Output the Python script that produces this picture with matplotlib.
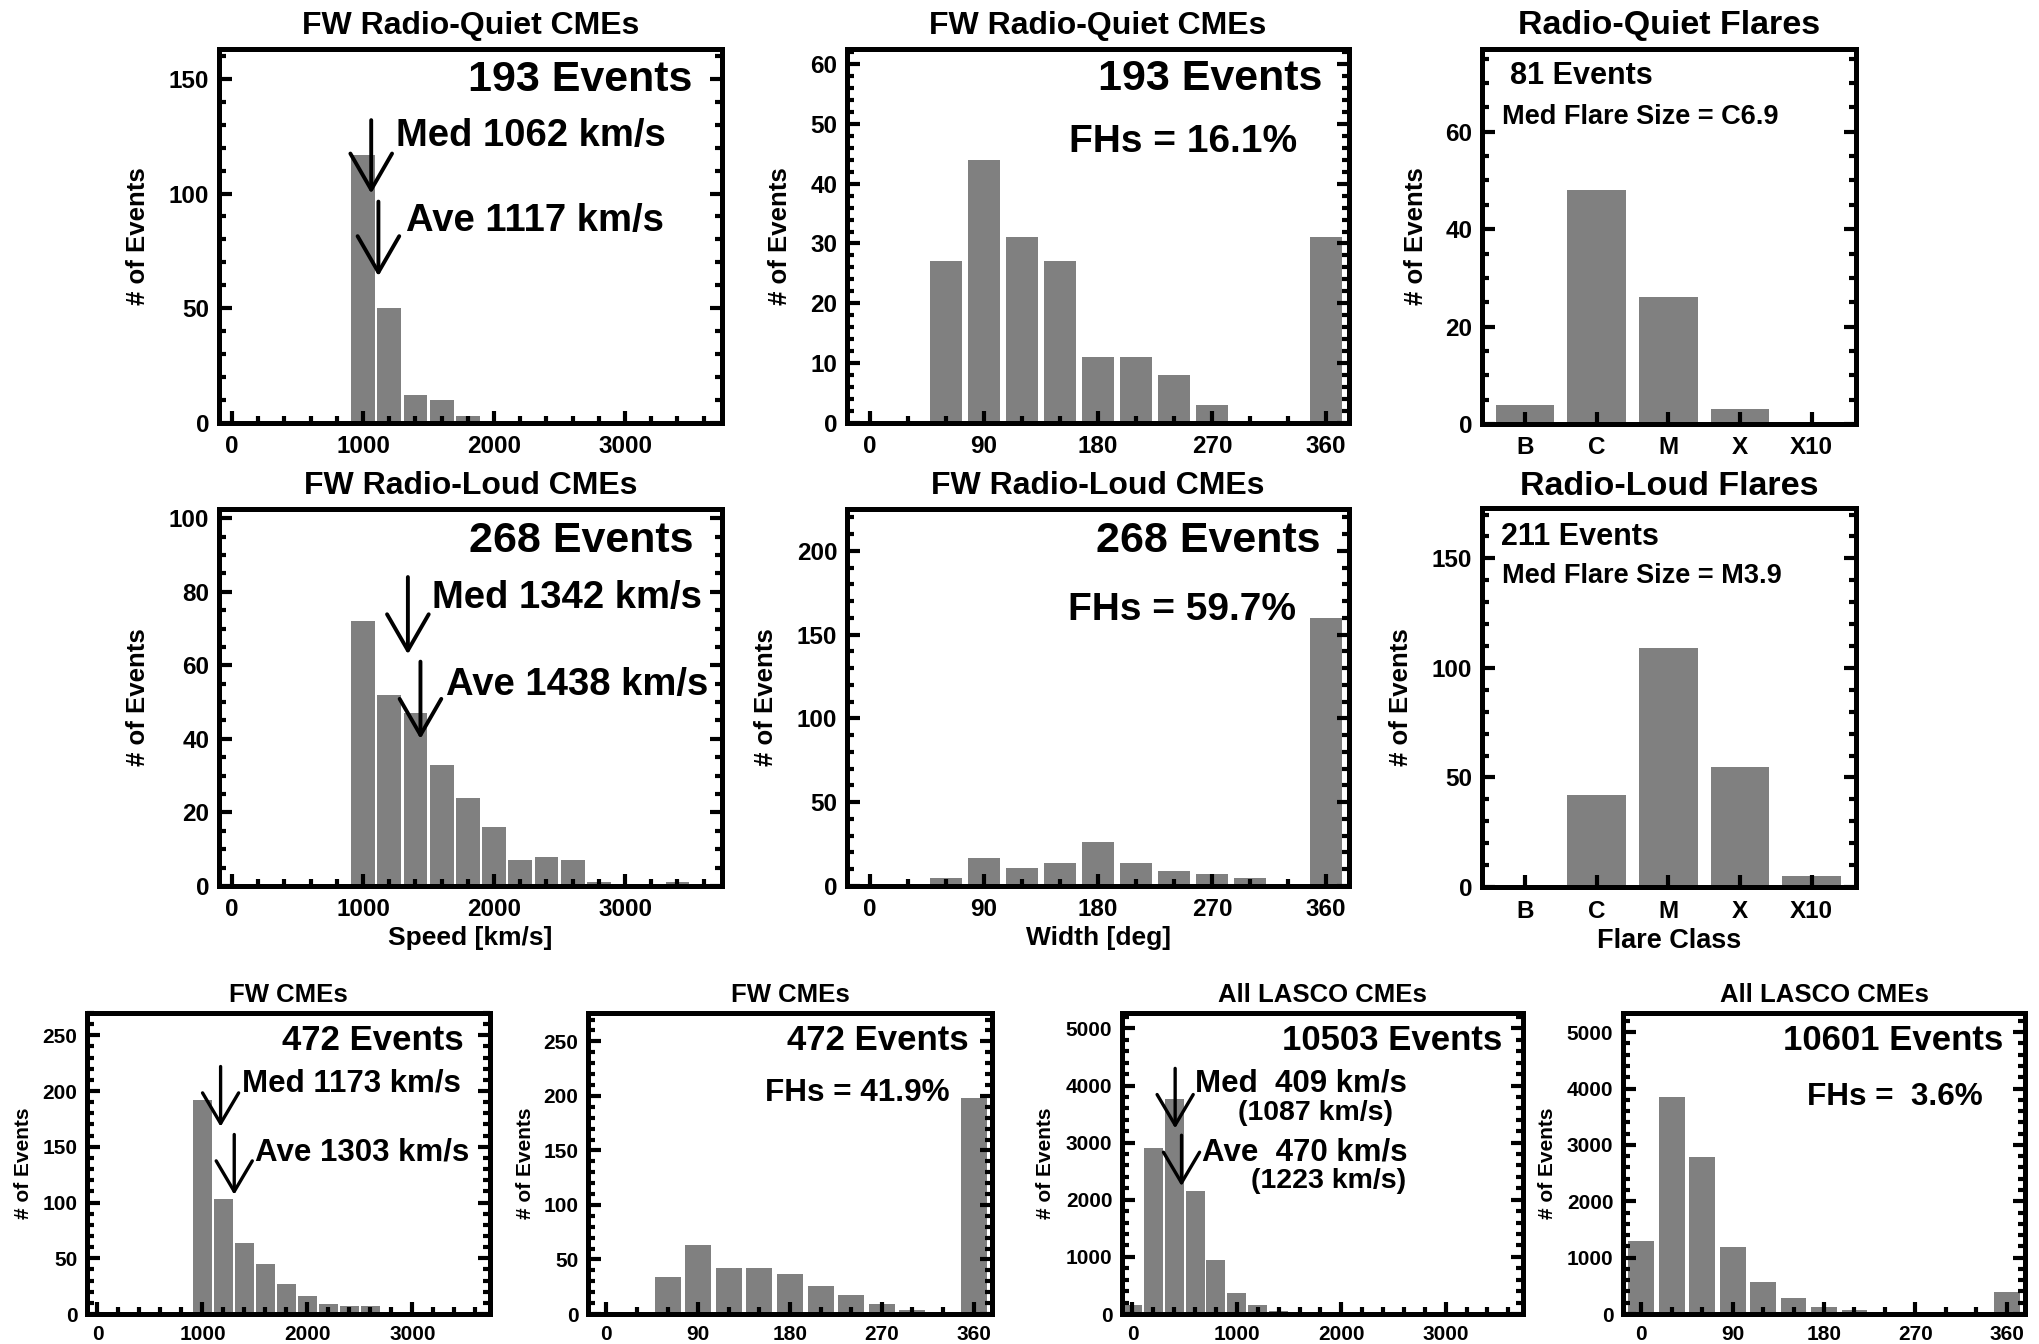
import matplotlib
matplotlib.use("Agg")
import matplotlib.pyplot as plt
from matplotlib.ticker import MultipleLocator, FixedLocator

plt.rcParams['font.family'] = ['Liberation Sans', 'DejaVu Sans']
plt.rcParams['font.weight'] = 'bold'
plt.rcParams['axes.labelweight'] = 'bold'

# ---------------- data ----------------
rq_speed_x = [1000, 1200, 1400, 1600, 1800, 2000]
rq_speed_n = [117, 50, 12, 10, 3, 1]
rl_speed_x = [1000, 1200, 1400, 1600, 1800, 2000, 2200, 2400, 2600, 2800, 3400]
rl_speed_n = [72, 52, 47, 33, 24, 16, 7, 8, 7, 1, 1]
fw_speed_x = [1000, 1200, 1400, 1600, 1800, 2000, 2200, 2400, 2600, 2800, 3400]
fw_speed_n = [192, 103, 64, 45, 27, 16, 9, 7, 7, 1, 1]
all_speed_x = [0, 200, 400, 600, 800, 1000, 1200, 1400, 1600, 1800]
all_speed_n = [150, 2910, 3760, 2150, 940, 370, 150, 50, 20, 3]

width_x = [60, 90, 120, 150, 180, 210, 240, 270, 300, 360]
rq_width_n = [27, 44, 31, 27, 11, 11, 8, 3, 0, 31]
rl_width_n = [5, 17, 11, 14, 26, 14, 9, 7, 5, 160]
fw_width_n = [34, 63, 42, 42, 37, 26, 17, 9, 4, 198]
all_width_x = [0, 30, 60, 90, 120, 150, 180, 210, 240, 270, 360]
all_width_n = [1300, 3850, 2780, 1180, 575, 285, 125, 65, 30, 10, 382]

flare_classes = ['B', 'C', 'M', 'X', 'X10']
rq_flare_n = [4, 48, 26, 3, 0]
rl_flare_n = [0, 42, 109, 55, 5]

# medians / averages (km/s)
rq_med, rq_ave = 1062, 1117
rl_med, rl_ave = 1342, 1438
fw_med, fw_ave = 1173, 1303
all_med, all_ave = 409, 470

GRAY = '#808080'
W, H = 2040, 1344
fig = plt.figure(figsize=(W / 100, H / 100), dpi=100)


def new_ax(L, R, T, B):
    return fig.add_axes([L / W, 1 - B / H, (R - L) / W, (B - T) / H])


def style(ax, xlim, ylim, xmaj, xmin, ymaj, ymin, fs, big=True):
    ax.set_xlim(*xlim)
    ax.set_ylim(*ylim)
    if xmaj is not None:
        ax.xaxis.set_major_locator(MultipleLocator(xmaj))
    if xmin is not None:
        ax.xaxis.set_minor_locator(MultipleLocator(xmin))
    ax.yaxis.set_major_locator(MultipleLocator(ymaj))
    ax.yaxis.set_minor_locator(MultipleLocator(ymin))
    ax.tick_params(which='both', direction='in', top=False, right=True,
                   left=True, bottom=True, width=3, labelsize=fs)
    ax.tick_params(which='major', length=9)
    ax.tick_params(which='minor', length=5)
    ax.tick_params(axis='x', pad=9 if big else 8)
    ax.tick_params(axis='y', pad=7)
    for s in ax.spines.values():
        s.set_linewidth(3.6)
    for lab in ax.get_xticklabels() + ax.get_yticklabels():
        lab.set_fontweight('bold')


def title(ax, txt, dy, fs):
    ax.text(0.5, 1 + dy, txt, transform=ax.transAxes, ha='center', va='center',
            fontsize=fs, fontweight='bold')


def ylab(ax, xpos, fs):
    ax.set_ylabel('# of Events', fontsize=fs, fontweight='bold')
    ax.yaxis.set_label_coords(xpos, 0.5)


def arrow(ax, x, y0, y1, hl, hw, lw):
    ax.annotate('', xy=(x, y1), xytext=(x, y0),
                arrowprops=dict(arrowstyle=f'->,head_length={hl},head_width={hw}',
                                lw=lw, color='black', shrinkA=0, shrinkB=0,
                                mutation_scale=10))


def txt(ax, x, y, s, fs, ha='left'):
    ax.text(x, y, s, transform=ax.transAxes, ha=ha, va='center', fontsize=fs,
            fontweight='bold')


SPD_XLIM = (-100, 3740)
WID_XLIM = (-18, 378)
FL_XLIM = (-0.6, 4.62)

# ---------------- Row 1 ----------------
ax = new_ax(219, 722, 49, 423)
ax.bar(rq_speed_x, rq_speed_n, width=182, color=GRAY, edgecolor='none')
style(ax, SPD_XLIM, (0, 163), 1000, 200, 50, 10, 17.5)
title(ax, 'FW Radio-Quiet CMEs', 0.062, 23)
ylab(ax, -0.137, 18.5)
txt(ax, 0.942, 0.917, '193 Events', 31, ha='right')
txt(ax, 0.352, 0.767, f'Med {rq_med} km/s', 27.5)
txt(ax, 0.371, 0.540, f'Ave {rq_ave} km/s', 27.5)
arrow(ax, rq_med, 132, 100, 2.6, 1.5, 2.8)
arrow(ax, rq_ave, 96.5, 64, 2.6, 1.5, 2.8)

ax = new_ax(847, 1349, 49, 423)
ax.bar(width_x, rq_width_n, width=25.5, color=GRAY, edgecolor='none')
style(ax, WID_XLIM, (0, 62.5), 90, 30, 10, 2, 17.5)
title(ax, 'FW Radio-Quiet CMEs', 0.062, 23)
ylab(ax, -0.110, 18.5)
txt(ax, 0.946, 0.92, '193 Events', 31, ha='right')
txt(ax, 0.896, 0.752, 'FHs = 16.1%', 28, ha='right')

ax = new_ax(1482, 1856, 49, 424)
ax.bar(range(len(flare_classes)), rq_flare_n, width=0.82, color=GRAY, edgecolor='none')
style(ax, FL_XLIM, (0, 77), None, None, 20, 5, 17.5)
ax.xaxis.set_major_locator(FixedLocator(range(len(flare_classes))))
ax.set_xticklabels(flare_classes, fontweight='bold')
ax.xaxis.set_minor_locator(FixedLocator([]))
title(ax, 'Radio-Quiet Flares', 0.063, 24.5)
ylab(ax, -0.144, 18.5)
txt(ax, 0.075, 0.928, '81 Events', 22)
txt(ax, 0.053, 0.819, 'Med Flare Size = C6.9', 19.5)

# ---------------- Row 2 ----------------
ax = new_ax(219, 722, 509, 886)
ax.bar(rl_speed_x, rl_speed_n, width=182, color=GRAY, edgecolor='none')
style(ax, SPD_XLIM, (0, 102.5), 1000, 200, 20, 5, 17.5)
title(ax, 'FW Radio-Loud CMEs', 0.061, 23)
ylab(ax, -0.137, 18.5)
ax.set_xlabel('Speed [km/s]', fontsize=19, fontweight='bold')
ax.xaxis.set_label_coords(0.5, -0.105)
txt(ax, 0.943, 0.915, '268 Events', 31, ha='right')
txt(ax, 0.424, 0.765, f'Med {rl_med} km/s', 27.5)
txt(ax, 0.452, 0.533, f'Ave {rl_ave} km/s', 27.5)
arrow(ax, rl_med, 84, 63, 2.6, 1.5, 2.8)
arrow(ax, rl_ave, 61, 40, 2.6, 1.5, 2.8)

ax = new_ax(847, 1349, 509, 886)
ax.bar(width_x, rl_width_n, width=25.5, color=GRAY, edgecolor='none')
style(ax, WID_XLIM, (0, 225), 90, 30, 50, 10, 17.5)
title(ax, 'FW Radio-Loud CMEs', 0.061, 23)
ylab(ax, -0.137, 18.5)
ax.set_xlabel('Width [deg]', fontsize=19, fontweight='bold')
ax.xaxis.set_label_coords(0.5, -0.105)
txt(ax, 0.944, 0.915, '268 Events', 31, ha='right')
txt(ax, 0.895, 0.733, 'FHs = 59.7%', 28, ha='right')

ax = new_ax(1482, 1856, 508, 887)
ax.bar(range(len(flare_classes)), rl_flare_n, width=0.82, color=GRAY, edgecolor='none')
style(ax, FL_XLIM, (0, 173), None, None, 50, 10, 17.5)
ax.xaxis.set_major_locator(FixedLocator(range(len(flare_classes))))
ax.set_xticklabels(flare_classes, fontweight='bold')
ax.xaxis.set_minor_locator(FixedLocator([]))
title(ax, 'Radio-Loud Flares', 0.058, 24.5)
ylab(ax, -0.184, 18.5)
ax.set_xlabel('Flare Class', fontsize=19.5, fontweight='bold')
ax.xaxis.set_label_coords(0.5, -0.108)
txt(ax, 0.051, 0.923, '211 Events', 22)
txt(ax, 0.054, 0.821, 'Med Flare Size = M3.9', 19.5)

# ---------------- Row 3 ----------------
ax = new_ax(87, 490, 1013, 1314)
ax.bar(fw_speed_x, fw_speed_n, width=182, color=GRAY, edgecolor='none')
style(ax, SPD_XLIM, (0, 270), 1000, 200, 50, 10, 15, big=False)
title(ax, 'FW CMEs', 0.06, 18.5)
ylab(ax, -0.133, 15)
txt(ax, 0.935, 0.910, '472 Events', 25, ha='right')
txt(ax, 0.384, 0.767, f'Med {fw_med} km/s', 22.5)
txt(ax, 0.417, 0.535, f'Ave {fw_ave} km/s', 22.5)
arrow(ax, fw_med, 222, 168, 2.2, 1.3, 2.4)
arrow(ax, fw_ave, 161, 107, 2.2, 1.3, 2.4)

ax = new_ax(588, 992, 1013, 1314)
ax.bar(width_x, fw_width_n, width=25.5, color=GRAY, edgecolor='none')
style(ax, WID_XLIM, (0, 276), 90, 30, 50, 10, 15, big=False)
title(ax, 'FW CMEs', 0.06, 18.5)
ylab(ax, -0.130, 15)
txt(ax, 0.941, 0.910, '472 Events', 25, ha='right')
txt(ax, 0.896, 0.734, 'FHs = 41.9%', 22.7, ha='right')

ax = new_ax(1122, 1523, 1013, 1314)
ax.bar(all_speed_x, all_speed_n, width=182, color=GRAY, edgecolor='none')
style(ax, SPD_XLIM, (0, 5270), 1000, 200, 1000, 200, 15, big=False)
title(ax, 'All LASCO CMEs', 0.06, 18.5)
ylab(ax, -0.166, 15)
txt(ax, 0.948, 0.907, '10503 Events', 25, ha='right')
txt(ax, 0.182, 0.765, f'Med  {all_med} km/s', 22.5)
txt(ax, 0.290, 0.668, '(1087 km/s)', 20.5)
txt(ax, 0.200, 0.536, f'Ave  {all_ave} km/s', 22.5)
txt(ax, 0.322, 0.442, '(1223 km/s)', 20.5)
arrow(ax, all_med, 4300, 3250, 2.2, 1.3, 2.4)
arrow(ax, all_ave, 3130, 2240, 2.2, 1.3, 2.4)

ax = new_ax(1623, 2025, 1013, 1314)
ax.bar(all_width_x, all_width_n, width=25.5, color=GRAY, edgecolor='none')
style(ax, WID_XLIM, (0, 5340), 90, 30, 1000, 200, 15, big=False)
title(ax, 'All LASCO CMEs', 0.06, 18.5)
ylab(ax, -0.163, 15)
txt(ax, 0.945, 0.907, '10601 Events', 25, ha='right')
txt(ax, 0.896, 0.722, 'FHs =  3.6%', 22.7, ha='right')

fig.savefig('out.png', dpi=100)
